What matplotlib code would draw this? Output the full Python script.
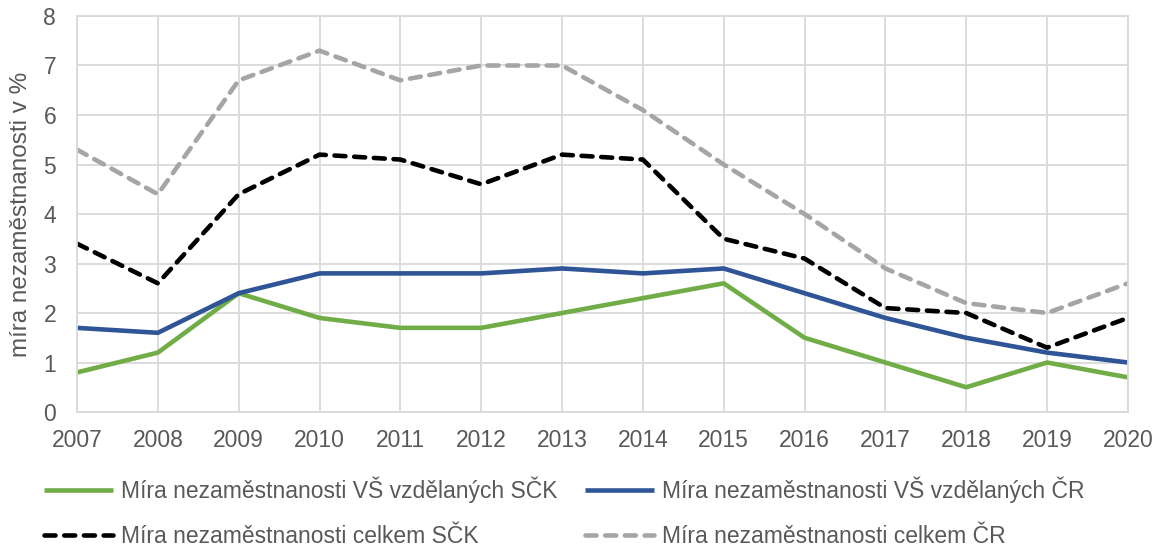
import matplotlib
matplotlib.use("Agg")
import matplotlib.pyplot as plt

# data
roky = [2007, 2008, 2009, 2010, 2011, 2012, 2013, 2014, 2015, 2016, 2017, 2018, 2019, 2020]
vs_sck = [0.8, 1.2, 2.4, 1.9, 1.7, 1.7, 2.0, 2.3, 2.6, 1.5, 1.0, 0.5, 1.0, 0.7]
vs_cr = [1.7, 1.6, 2.4, 2.8, 2.8, 2.8, 2.9, 2.8, 2.9, 2.4, 1.9, 1.5, 1.2, 1.0]
celkem_sck = [3.4, 2.6, 4.4, 5.2, 5.1, 4.6, 5.2, 5.1, 3.5, 3.1, 2.1, 2.0, 1.3, 1.9]
celkem_cr = [5.3, 4.4, 6.7, 7.3, 6.7, 7.0, 7.0, 6.1, 5.0, 4.0, 2.9, 2.2, 2.0, 2.6]

plt.rcParams['font.family'] = ['Liberation Sans', 'DejaVu Sans']
seda = '#595959'

fig = plt.figure(figsize=(11.58, 5.46), dpi=100)
ax = fig.add_axes([0.0665, 0.2454, 0.9075, 0.7253])

lw = 3.3
h1, = ax.plot(roky, vs_sck, color='#70ad47', lw=lw, solid_capstyle='butt',
              label='Míra nezaměstnanosti VŠ vzdělaných SČK')
h2, = ax.plot(roky, vs_cr, color='#2f5597', lw=lw, solid_capstyle='butt',
              label='Míra nezaměstnanosti VŠ vzdělaných ČR')
h3, = ax.plot(roky, celkem_sck, color='black', lw=lw, dashes=(2.4, 1.9), dash_capstyle='round',
              label='Míra nezaměstnanosti celkem SČK')
h4, = ax.plot(roky, celkem_cr, color='#a5a5a5', lw=lw, dashes=(2.4, 1.9), dash_capstyle='round',
              label='Míra nezaměstnanosti celkem ČR')

ax.set_xlim(2007, 2020)
ax.set_ylim(0, 8)
ax.set_xticks(roky)
ax.set_yticks(range(0, 9))
ax.grid(True, color='#d9d9d9', lw=1.3)
ax.set_axisbelow(True)
for s in ax.spines.values():
    s.set_color('#d9d9d9')
    s.set_linewidth(1.3)
ax.tick_params(length=0, labelsize=16.5, colors=seda)
ax.tick_params(axis='y', pad=15)
ax.tick_params(axis='x', pad=12)
ax.set_ylabel('míra nezaměstnanosti v %', fontsize=17.5, color=seda)
ax.yaxis.set_label_coords(-0.043, 0.5)

# poradi po radcich jako v Excelu
fig.legend([h1, h3, h2, h4], [h.get_label() for h in [h1, h3, h2, h4]],
           loc='upper left', bbox_to_anchor=(44 / 1158, 0.127), ncol=2, frameon=False,
           borderpad=0, borderaxespad=0,
           fontsize=16.5, handlelength=3.0, handletextpad=0.35, columnspacing=1.2,
           labelspacing=0.95, labelcolor=seda)

fig.savefig('out.png', dpi=100)
